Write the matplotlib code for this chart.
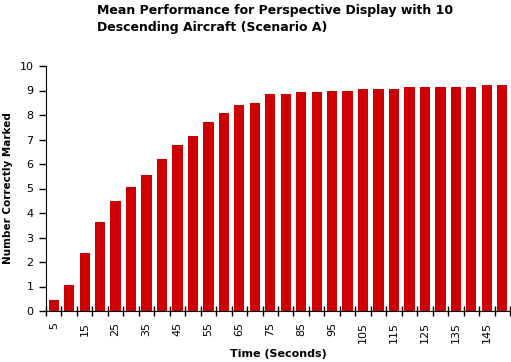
import matplotlib.pyplot as plt
import numpy as np

# data
seconds = list(range(5, 155, 5))
correct = [0.45, 1.06, 2.38, 3.63, 4.49, 5.06, 5.55, 6.20, 6.78, 7.14,
           7.71, 8.09, 8.41, 8.49, 8.86, 8.86, 8.94, 8.94, 8.98, 8.98,
           9.06, 9.06, 9.06, 9.14, 9.14, 9.14, 9.14, 9.14, 9.22, 9.22]
tick_labels = [str(s) if i % 2 == 0 else '' for i, s in enumerate(seconds)]

fig = plt.figure(figsize=(5.11, 3.62), dpi=100)
ax = fig.add_axes([46 / 511, 1 - 311 / 362, 464 / 511, 245 / 362])

x = np.arange(len(seconds))
ax.bar(x, correct, width=0.66, color='#cc0000')

ax.set_xlim(-0.5, len(seconds) - 0.5)
ax.set_ylim(0, 10)
ax.set_yticks(range(0, 11))
ax.tick_params(axis='y', direction='out', length=5, width=1, labelsize=8, pad=4)

# ticks sit between bars, labels under every other bar
ax.set_xticks(np.arange(len(seconds) + 1) - 0.5, minor=False)
ax.set_xticklabels([])
ax.tick_params(axis='x', which='major', direction='inout', length=7, width=1)
ax.set_xticks(x, minor=True)
ax.set_xticklabels(tick_labels, minor=True, rotation=90, fontsize=8)
ax.tick_params(axis='x', which='minor', length=0, pad=8)

for side in ['top', 'right']:
    ax.spines[side].set_visible(False)

ax.set_xlabel('Time (Seconds)', fontsize=8, fontweight='bold')
ax.xaxis.set_label_coords(0.5, -0.155)
ax.set_ylabel('Number Correctly Marked', fontsize=7.5, fontweight='bold')
ax.yaxis.set_label_coords(-0.071, 0.5)

fig.text(97 / 511, 1 - 4 / 362,
         'Mean Performance for Perspective Display with 10\nDescending Aircraft (Scenario A)',
         ha='left', va='top', fontsize=9, fontweight='bold', linespacing=1.4)

fig.savefig('out.png', dpi=100)
